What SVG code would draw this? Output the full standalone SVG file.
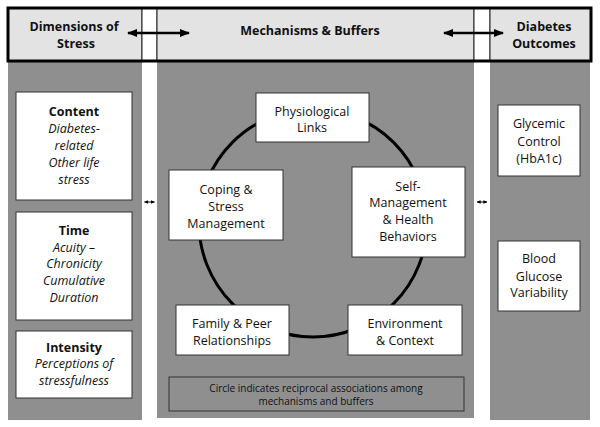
<svg xmlns="http://www.w3.org/2000/svg" width="600" height="427" viewBox="0 0 600 427">
<defs>
<style>
text{font-family:"Open Sans","Liberation Sans",sans-serif;fill:#111;text-anchor:middle;font-size:12.5px}
.h{font-weight:bold;font-size:12.5px}
.b{font-weight:bold;font-size:12.5px}
.i{font-style:italic}
.s{font-size:10px}
.box{fill:#fff;stroke:#333;stroke-width:1}
.col{fill:#8f8f8f}
.hd{fill:#e3e3e3;stroke:#222;stroke-width:1}
.big{stroke:#000;stroke-width:2.5;fill:none}
.sm{stroke:#000;stroke-width:1;fill:none}
</style>
<marker id="ah" viewBox="0 0 10 10" refX="9" refY="5" markerWidth="4" markerHeight="4" orient="auto-start-reverse" markerUnits="strokeWidth"><path d="M0,1 L10,5 L0,9 Z" fill="#000"/></marker>
<marker id="as" viewBox="0 0 10 10" refX="9" refY="5" markerWidth="4" markerHeight="4.5" orient="auto-start-reverse" markerUnits="strokeWidth"><path d="M0,0.5 L10,5 L0,9.5 Z" fill="#000"/></marker>
</defs>
<rect width="600" height="427" fill="#fff"/>
<!-- columns -->
<rect class="col" x="8" y="61" width="134" height="359"/>
<rect class="col" x="157" y="61" width="317" height="357"/>
<rect class="col" x="490" y="61" width="100" height="359"/>
<!-- header -->
<g id="header">
<rect class="hd" x="8" y="8" width="134" height="53"/>
<rect fill="#fff" stroke="#222" stroke-width="1" x="142" y="8" width="15" height="53"/>
<rect class="hd" x="157" y="8" width="317" height="53"/>
<rect fill="#fff" stroke="#222" stroke-width="1" x="474" y="8" width="16" height="53"/>
<rect class="hd" x="490" y="8" width="101" height="53"/>
<rect x="8" y="8" width="583" height="53" fill="none" stroke="#000" stroke-width="3"/>
</g>
<g id="h-dim"><text class="h" x="74" y="31">Dimensions of</text><text class="h" x="76" y="48">Stress</text></g>
<g id="h-mech"><text class="h" x="310" y="35">Mechanisms &amp; Buffers</text></g>
<g id="h-out"><text class="h" x="544" y="31">Diabetes</text><text class="h" x="544" y="48">Outcomes</text></g>
<!-- connectors -->
<g id="connectors">
<line class="big" x1="128" y1="33" x2="189" y2="33" marker-start="url(#ah)" marker-end="url(#ah)"/>
<line class="big" x1="444" y1="33" x2="503" y2="33" marker-start="url(#ah)" marker-end="url(#ah)"/>
<line class="sm" x1="144.5" y1="202" x2="154.5" y2="202" marker-start="url(#as)" marker-end="url(#as)"/>
<line class="sm" x1="477" y1="202" x2="487" y2="202" marker-start="url(#as)" marker-end="url(#as)"/>
<circle cx="313" cy="223" r="114" fill="none" stroke="#000" stroke-width="3"/>
</g>
<!-- left -->
<g id="content"><rect class="box" x="16" y="92" width="116" height="108"/>
<text class="b" x="74" y="116">Content</text>
<text class="i" x="74" y="133">Diabetes-</text>
<text class="i" x="74" y="150">related</text>
<text class="i" x="74" y="167">Other life</text>
<text class="i" x="74" y="184">stress</text></g>
<g id="time"><rect class="box" x="16" y="212" width="116" height="108"/>
<text class="b" x="74" y="235">Time</text>
<text class="i" x="74" y="252">Acuity –</text>
<text class="i" x="74" y="268">Chronicity</text>
<text class="i" x="74" y="285">Cumulative</text>
<text class="i" x="74" y="302">Duration</text></g>
<g id="intensity"><rect class="box" x="16" y="331" width="116" height="67"/>
<text class="b" x="74" y="352">Intensity</text>
<text class="i" x="74" y="368">Perceptions of</text>
<text class="i" x="74" y="385">stressfulness</text></g>
<!-- middle -->
<g id="physio"><rect class="box" x="256" y="93" width="113" height="49"/>
<text x="312" y="116">Physiological</text><text x="312" y="132">Links</text></g>
<g id="coping"><rect class="box" x="169" y="170" width="114" height="70"/>
<text x="226" y="194">Coping &amp;</text><text x="226" y="211">Stress</text><text x="226" y="228">Management</text></g>
<g id="selfmgmt"><rect class="box" x="352" y="167" width="113" height="90"/>
<text x="408" y="191">Self-</text><text x="408" y="207">Management</text><text x="408" y="224">&amp; Health</text><text x="408" y="241">Behaviors</text></g>
<g id="family"><rect class="box" x="176" y="305" width="113" height="50"/>
<text x="232" y="328">Family &amp; Peer</text><text x="232" y="345">Relationships</text></g>
<g id="environment"><rect class="box" x="348" y="305" width="114" height="50"/>
<text x="405" y="328">Environment</text><text x="405" y="345">&amp; Context</text></g>
<g id="note"><rect x="169" y="377" width="295" height="34" fill="#8f8f8f" stroke="#333" stroke-width="1"/>
<text class="s" x="316" y="392">Circle indicates reciprocal associations among</text>
<text class="s" x="316" y="405">mechanisms and buffers</text></g>
<!-- right -->
<g id="glycemic"><rect class="box" x="498" y="105" width="82" height="71"/>
<text x="539" y="128">Glycemic</text><text x="539" y="146">Control</text><text x="539" y="163">(HbA1c)</text></g>
<g id="bgv"><rect class="box" x="498" y="241" width="82" height="70"/>
<text x="539" y="263">Blood</text><text x="539" y="281">Glucose</text><text x="539" y="297">Variability</text></g>
</svg>
